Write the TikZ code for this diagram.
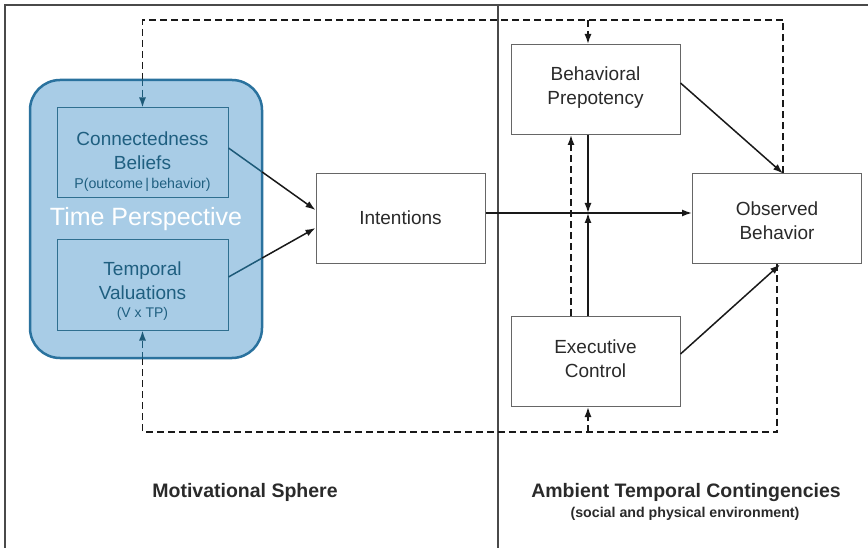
\documentclass[tikz,border=0pt]{standalone}
\usepackage{fontspec}
\setmainfont{Liberation Sans}
\usetikzlibrary{arrows.meta,calc}
\definecolor{tpfill}{HTML}{A8CCE6}
\definecolor{tpedge}{HTML}{2A729E}
\definecolor{inedge}{HTML}{2F6F90}
\definecolor{tealtxt}{HTML}{1F5F80}
\definecolor{tealline}{HTML}{1D5A78}
\definecolor{boxgray}{HTML}{666666}
\definecolor{framegray}{HTML}{4A4A4A}
\definecolor{txtgray}{HTML}{2A2A2A}
\begin{document}
\begin{tikzpicture}[x=1pt,y=-1pt,
  box/.style={draw=boxgray, line width=1pt, fill=white, minimum width=169pt, minimum height=90pt, inner sep=0pt},
  ibox/.style={draw=inedge, line width=1pt, minimum width=171pt, minimum height=90pt, inner sep=0pt},
  txt/.style={font=\fontsize{19}{24}\selectfont, align=center, text=txtgray, inner sep=0pt},
  ttxt/.style={font=\fontsize{19}{24}\selectfont, align=center, text=tealtxt, inner sep=0pt},
  lbl/.style={font=\fontsize{19.5}{24}\selectfont\bfseries, text=txtgray, inner sep=0pt, anchor=base},
  tip/.style={-{Latex[length=10pt,width=7pt]}},
  arr/.style={tip, line width=1.5pt, draw=black!90},
  fb/.style={dash pattern=on 7pt off 4pt, line width=1.5pt, draw=black!90}
]
\useasboundingbox (0,0) rectangle (868,548);
% frame
\draw[framegray, line width=1.3pt] (868,5) -- (5,5) -- (5,548);
\draw[framegray, line width=1.3pt] (498,5) -- (498,548);

% helper coordinates
\coordinate (j) at (588,213);
\coordinate (k) at (571,213);
\coordinate (topR) at (783,20);
\coordinate (topL) at (142.5,20);
\coordinate (botR) at (777,432);
\coordinate (botL) at (142.5,432);

% time perspective region
\node[draw=tpedge, line width=2.5pt, fill=tpfill, rounded corners=30pt, minimum width=232pt, minimum height=278pt] (tp) at (146,219) {};
\node[ibox] (cb) at (142.5,153) {};
\node[ibox] (tv) at (142.5,285) {};
\node[ttxt] (cbt) at (142.5,162) {Connectedness\\Beliefs\\[-5pt]{\fontsize{14.2}{16}\selectfont P(outcome\,|\,behavior)}};
\node[ttxt] (tvt) at (142.5,291) {Temporal\\Valuations\\[-6pt]{\fontsize{14}{16}\selectfont (V x TP)}};
\node[font=\fontsize{25}{30}\selectfont, text=white, inner sep=0pt] (tpt) at (146,219) {Time Perspective};

% other boxes
\node[box] (int) at (400.5,219) {};
\node[txt] (intt) at (400.5,218) {Intentions};
\node[box] (bp) at (595.5,89.5) {};
\node[txt] (bpt) at (595.5,88) {Behavioral\\Prepotency};
\node[box] (ec) at (595.5,361.5) {};
\node[txt] (ect) at (595.5,359) {Executive\\Control};
\node[box] (ob) at (777,219) {};
\node[txt] (obt) at (777,221) {Observed\\Behavior};

% feedback dashed loops
\draw[fb] (ob.north -| topR) -- (topR) -- (topL) -- (tp.north -| topL);
\draw[fb, draw=tealline, tip] (tp.north -| topL) -- (cb.north);
\draw[fb, tip] (j |- topR) -- (j |- bp.north);
\draw[fb] (ob.south -| botR) -- (botR) -- (botL) -- (tp.south -| botL);
\draw[fb, draw=tealline, tip] (tp.south -| botL) -- (tv.south);
\draw[fb, tip] (j |- botR) -- (j |- ec.south);

% left connectors
\coordinate (cbo) at ([yshift=5pt]cb.east);
\coordinate (cbi) at ([yshift=9pt]int.west);
\coordinate (cbm) at ($(cbo)!0.386!(cbi)$);
\draw[line width=1.5pt, tealline] (cbo) -- (cbm);
\draw[arr] (cbm) -- (cbi);
\coordinate (tvo) at ([yshift=8pt]tv.east);
\coordinate (tvi) at ([yshift=-9pt]int.west);
\coordinate (tvm) at ($(tvo)!0.386!(tvi)$);
\draw[line width=1.5pt, tealline] (tvo) -- (tvm);
\draw[arr] (tvm) -- (tvi);

% right connectors
\draw[arr] (int.east |- j) -- (ob.west |- j);
\draw[arr] (bp.south -| j) -- (j);
\draw[arr] (ec.north -| j) -- (j);
\draw[fb, tip] (ec.north -| k) -- (bp.south -| k);
\draw[arr] ([yshift=6.5pt]bp.east) -- (ob.north -| topR);
\draw[arr] ([yshift=7.5pt]ec.east) -- ([xshift=3pt]ob.south);

% sphere labels
\node[lbl] (ms) at (245,497) {Motivational Sphere};
\node[lbl] (atc) at (686,497) {Ambient Temporal Contingencies};
\node[lbl, font=\fontsize{14.2}{16}\selectfont\bfseries] (spe) at (685,517) {(social and physical environment)};
\end{tikzpicture}
\end{document}
